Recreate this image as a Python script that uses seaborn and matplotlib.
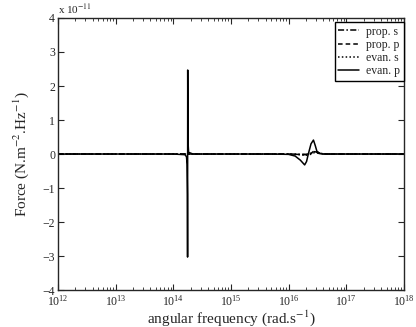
import numpy as np
import pandas as pd
import seaborn as sns
import matplotlib
matplotlib.use("Agg")
import matplotlib.pyplot as plt
from matplotlib.ticker import LogLocator, NullFormatter

# values, force in units of 1e-11 N.m^-2.Hz^-1

# evan. p (solid) : the big resonance near 1.8e14 and the bump near 2e16
w_evan_p = [1e12, 1e13, 1e14, 1.6e14, 1.70e14, 1.74e14, 1.765e14, 1.775e14,
            1.785e14, 1.80e14, 1.85e14, 2.2e14, 1e15, 5e15, 1.0e16, 1.3e16,
            1.6e16, 1.9e16, 2.05e16, 2.2e16, 2.45e16, 2.7e16, 2.9e16,
            3.1e16, 3.5e16, 4e16, 1e17, 1e18]
f_evan_p = [0.0, 0.0, 0.0, -0.02, -0.08, -0.3, -1.2, -3.03,
            2.47, 0.4, 0.05, 0.0, 0.0, 0.0, -0.01, -0.06,
            -0.18, -0.32, -0.22, 0.0, 0.3, 0.41, 0.25,
            0.08, 0.01, 0.0, 0.0, 0.0]

# evan. s (dotted)
w_evan_s = [1e12, 1e14, 1e16, 1.5e16, 2.0e16, 2.4e16, 2.8e16, 3.2e16,
            4e16, 5e16, 1e17, 1e18]
f_evan_s = [0.0, 0.0, -0.005, -0.02, -0.04, -0.01, 0.04, 0.03,
            0.01, 0.0, 0.0, 0.0]

# prop. s (dash-dot)
w_prop_s = [1e12, 1e14, 1e16, 2.0e16, 2.5e16, 2.8e16, 3.0e16, 3.3e16,
            4e16, 1e17, 1e18]
f_prop_s = [0.0, 0.0, 0.0, -0.01, 0.02, 0.07, 0.06, 0.02,
            0.0, 0.0, 0.0]

# prop. p (dashed)
w_prop_p = [1e12, 1e14, 1e16, 2.0e16, 2.5e16, 2.8e16, 3.0e16, 3.4e16,
            4.2e16, 1e17, 1e18]
f_prop_p = [0.0, 0.0, 0.0, -0.02, 0.03, 0.1, 0.08, 0.03,
            0.0, 0.0, 0.0]

names = ["prop. s", "prop. p", "evan. s", "evan. p"]
omegas = [w_prop_s, w_prop_p, w_evan_s, w_evan_p]
forces = [f_prop_s, f_prop_p, f_evan_s, f_evan_p]

rows = []
for name, w, f in zip(names, omegas, forces):
    for a, b in zip(w, f):
        rows.append({"omega": a, "force": b, "curve": name})
df = pd.DataFrame(rows)

sns.set_style("ticks")
plt.rcParams["font.family"] = ["Liberation Serif", "DejaVu Serif"]
plt.rcParams["mathtext.fontset"] = "stix"
plt.rcParams["xtick.direction"] = "in"
plt.rcParams["ytick.direction"] = "in"

fig = plt.figure(figsize=(4.16, 3.27), dpi=100)
ax = fig.add_axes([0.139, 0.113, 0.832, 0.832])

sns.lineplot(data=df, x="omega", y="force", hue="curve", style="curve",
             hue_order=names, style_order=names,
             palette=["black"] * 4,
             dashes={"prop. s": (4, 1.5, 1, 1.5), "prop. p": (3, 2),
                     "evan. s": (1, 1.5), "evan. p": ""},
             estimator=None, linewidth=1.1, ax=ax)

ax.set_xscale("log")
ax.set_xlim(1e12, 1e18)
ax.set_ylim(-4, 4)
ax.set_yticks(range(-4, 5))
ax.xaxis.set_major_locator(LogLocator(base=10, numticks=10))
ax.xaxis.set_minor_locator(LogLocator(base=10, subs=np.arange(2, 10), numticks=20))
ax.xaxis.set_minor_formatter(NullFormatter())
ax.tick_params(which="both", top=True, right=True, labelsize=8.5)
ax.tick_params(axis="x", pad=2.5)
ax.tick_params(axis="y", pad=2)
ax.tick_params(which="major", length=4, width=0.8)
ax.tick_params(which="minor", length=2, width=0.6)
for s in ax.spines.values():
    s.set_linewidth(1.0)

ax.set_xlabel(r"angular frequency (rad.s$^{-1}$)", fontsize=11, labelpad=0.5)
ax.set_ylabel(r"Force (N.m$^{-2}$.Hz$^{-1}$)", fontsize=11, labelpad=8)
ax.text(0.0, 1.008, r"x 10$^{-11}$", transform=ax.transAxes, fontsize=8,
        ha="left", va="bottom")

leg = ax.legend(loc="upper right", bbox_to_anchor=(1.0, 0.985), fontsize=8.5,
                frameon=True, fancybox=False, edgecolor="black", framealpha=1,
                borderaxespad=0, handlelength=1.8, handletextpad=0.6,
                labelspacing=0.1, borderpad=0.3, title=None)
leg.get_frame().set_linewidth(1.0)

fig.savefig("out.png", dpi=100)
